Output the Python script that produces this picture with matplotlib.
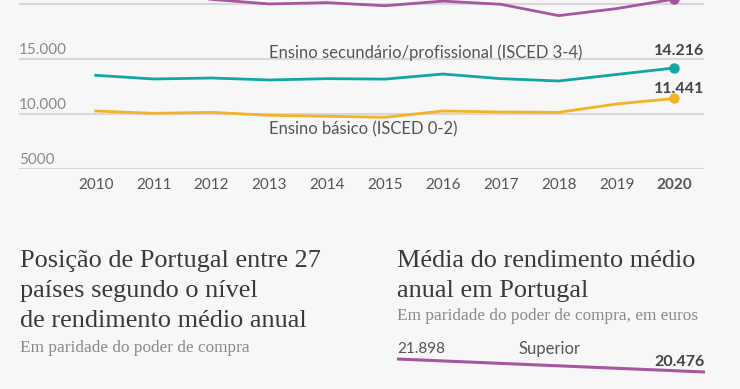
import matplotlib
matplotlib.use("Agg")
import matplotlib.pyplot as plt
import matplotlib.transforms as mtransforms

years = [2010, 2011, 2012, 2013, 2014, 2015, 2016, 2017, 2018, 2019, 2020]
superior = [21898, 21150, 20450, 20030, 20150, 19870, 20290, 20000, 18970, 19610, 20476]
secundario = [13545, 13210, 13300, 13120, 13240, 13200, 13660, 13240, 13030, 13620, 14216]
basico = [10300, 10090, 10180, 9910, 9820, 9730, 10300, 10210, 10180, 10940, 11441]
yticks = [5000, 10000, 15000, 20000]
ytick_labels = ["5000", "10.000", "15.000", "20.000"]

W, H = 740, 389
BG = "#f7f7f7"
TEAL = "#14a5a3"
YELLOW = "#f2b32a"
PURPLE = "#a6569f"
GRID = "#d8d8d8"
TXT = "#555555"
TICK = "#8a8a8a"
SANS = ["Lato", "DejaVu Sans"]
SERIF = ["Liberation Serif", "DejaVu Serif"]

fig = plt.figure(figsize=(W / 100, H / 100), dpi=100, facecolor=BG)

def fx(px):
    return px / W

def fy(py):
    return 1 - py / H

# ---- top line chart ----
ax = fig.add_axes([fx(19), fy(169.3), fx(704 - 19), 169.3 / H])
ax.set_facecolor(BG)
ax.set_xlim(2008.675, 2020.51)
ax.set_ylim(5000, 20391)
for s in ax.spines.values():
    s.set_visible(False)
ax.set_yticks(yticks)
ax.yaxis.grid(True, color=GRID, linewidth=1.5)
ax.set_axisbelow(True)
ax.tick_params(axis="y", length=0, labelleft=False)
ax.set_xticks(years)
ax.set_xticklabels([str(y) for y in years], fontsize=11, color=TXT, family=SANS)
ax.tick_params(axis="x", length=0, pad=6)
ax.get_xticklabels()[-1].set_fontweight("bold")

trans = mtransforms.blended_transform_factory(ax.transAxes, ax.transData)
for v, lab in zip(yticks, ytick_labels):
    ax.annotate(lab, xy=(0, v), xycoords=trans, xytext=(0, 1.5), textcoords="offset points",
                ha="left", va="bottom", fontsize=11, color=TICK, family=SANS,
                annotation_clip=False)

for series, col in [(superior, PURPLE), (secundario, TEAL), (basico, YELLOW)]:
    ax.plot(years, series, color=col, linewidth=2.0, solid_joinstyle="round")
    ax.plot(years[-1], series[-1], "o", color=col, markersize=6.5, clip_on=False)

ax.annotate(f"{secundario[-1]:,}".replace(",", "."), xy=(years[-1], secundario[-1]),
            xytext=(21.5, 9), textcoords="offset points", ha="right", va="baseline",
            fontsize=11.5, fontweight="bold", color="#444444", family=SANS)
ax.annotate(f"{basico[-1]:,}".replace(",", "."), xy=(years[-1], basico[-1]),
            xytext=(21.5, 4), textcoords="offset points", ha="right", va="baseline",
            fontsize=11.5, fontweight="bold", color="#444444", family=SANS)
ax.text(2013, 15140, "Ensino secundário/profissional (ISCED 3-4)", ha="left", va="baseline",
        fontsize=12, color=TXT, family=SANS)
ax.text(2013, 8150, "Ensino básico (ISCED 0-2)", ha="left", va="baseline",
        fontsize=12, color=TXT, family=SANS)

# ---- titles ----
tcol = "#3a3a3a"
scol = "#8a8a8a"
for i, line in enumerate(["Posição de Portugal entre 27", "países segundo o nível",
                          "de rendimento médio anual"]):
    fig.text(fx(20), fy(266.7 + 30 * i), line, ha="left", va="baseline",
             fontsize=18.9, color=tcol, family=SERIF)
fig.text(fx(20), fy(351.5), "Em paridade do poder de compra", ha="left", va="baseline",
         fontsize=12.4, color=scol, family=SERIF)
for i, line in enumerate(["Média do rendimento médio", "anual em Portugal"]):
    fig.text(fx(397), fy(266.7 + 30 * i), line, ha="left", va="baseline",
             fontsize=18.9, color=tcol, family=SERIF)
fig.text(fx(397), fy(320), "Em paridade do poder de compra, em euros", ha="left", va="baseline",
         fontsize=12.4, color=scol, family=SERIF)

# ---- bottom-right slope chart ----
ax2 = fig.add_axes([fx(397), fy(380), fx(705 - 397), 25 / H])
ax2.set_facecolor("none")
ax2.axis("off")
ax2.set_xlim(years[0], years[-1])
ax2.set_ylim(19601, 22336)
ax2.plot([years[0], years[-1]], [superior[0], superior[-1]], color=PURPLE, linewidth=2.2,
         solid_capstyle="butt", clip_on=False)
ax2.annotate(f"{superior[0]:,}".replace(",", "."), xy=(years[0], superior[0]), xytext=(0, 2),
             textcoords="offset points", ha="left", va="bottom", fontsize=11, color=TXT,
             family=SANS, annotation_clip=False)
ax2.annotate(f"{superior[-1]:,}".replace(",", "."), xy=(years[-1], superior[-1]), xytext=(0, 2),
             textcoords="offset points", ha="right", va="bottom", fontsize=11.5,
             fontweight="bold", color="#444444", family=SANS, annotation_clip=False)
ax2.text(0.495, 0.92, "Superior", transform=ax2.transAxes, ha="center", va="bottom",
         fontsize=12, color=TXT, family=SANS)

fig.savefig("out.png", dpi=100, facecolor=BG)
